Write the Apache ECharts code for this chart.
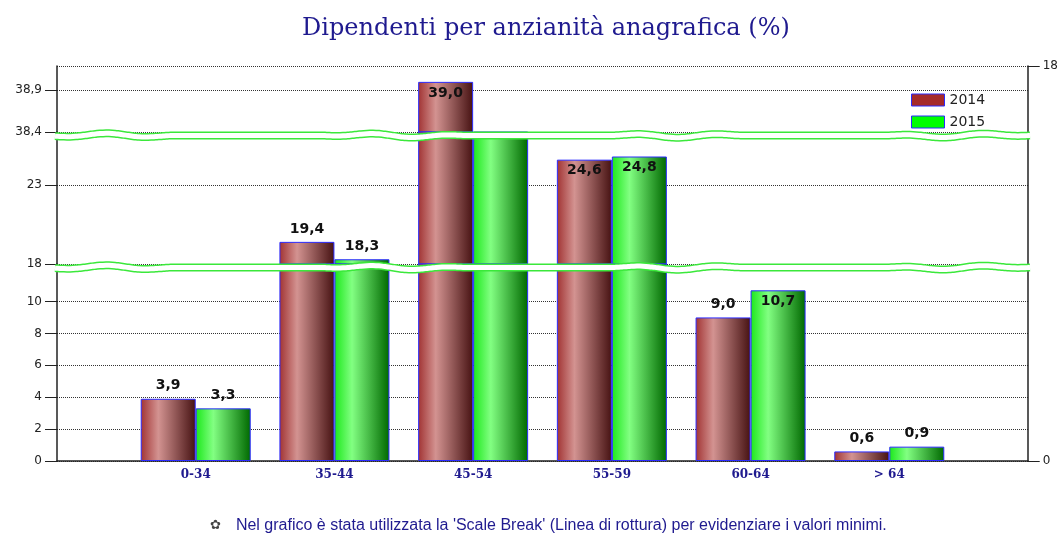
<!DOCTYPE html>
<html>
<head>
<meta charset="utf-8">
<script src="https://cdn.jsdelivr.net/npm/echarts@6/dist/echarts.min.js"></script>
<style>
html, body { margin: 0; padding: 0; background: #fff; }
#chart { width: 1061px; height: 533px; }
</style>
</head>
<body>
<div id="chart"></div>
<script>
// dati
const categories = ['0-34', '35-44', '45-54', '55-59', '60-64', '> 64'];
const values2014 = [3.9, 19.4, 39.0, 24.6, 9.0, 0.6];
const values2015 = [3.3, 18.3, 38.4, 24.8, 10.7, 0.9];
const ticksLow = [0, 2, 4, 6, 8, 10];
const ticksMid = [18, 23];
const ticksTop = [38.4, 38.9];
const ticksRight = [0, 18];

const NAVY = '#1f1a8f';
const BLUE_BORDER = '#2b2bff';

// three stacked grids = scale break
const segments = [
  { top: 66, height: 66, min: 38.4, max: 39.19, ticks: ticksTop },
  { top: 132, height: 132, min: 18, max: 26.35, ticks: ticksMid },
  { top: 264, height: 197, min: 0, max: 12.35, ticks: ticksLow }
];

const fill2014 = new echarts.graphic.LinearGradient(0, 0, 1, 0, [
  { offset: 0, color: '#a13333' },
  { offset: 0.32, color: '#d39391' },
  { offset: 1, color: '#461212' }
]);
const fill2015 = new echarts.graphic.LinearGradient(0, 0, 1, 0, [
  { offset: 0, color: '#1be81b' },
  { offset: 0.32, color: '#82ff82' },
  { offset: 1, color: '#006800' }
]);

const fmt = v => Number(v).toFixed(1).replace('.', ',');
const pad = arr => [null].concat(arr, [null]);

function segData(values, seg) {
  const pxPerUnit = seg.height / (seg.max - seg.min);
  return pad(values).map(v => {
    if (v == null || v < seg.min) return '-';
    const inside = v <= seg.max && (seg.max - v) * pxPerUnit < 30;
    return {
      value: v,
      label: {
        show: v <= seg.max,
        position: inside ? 'insideTop' : 'top',
        distance: inside ? 4 : 6
      }
    };
  });
}

const grids = [];
const xAxes = [];
const yAxes = [];
const series = [];

segments.forEach((seg, i) => {
  grids.push({ left: 57, right: 33, top: seg.top, height: seg.height });
  xAxes.push({
    type: 'category',
    gridIndex: i,
    boundaryGap: false,
    data: [''].concat(categories, ['']),
    show: i === segments.length - 1,
    axisLine: { lineStyle: { color: '#222', width: 1.5 } },
    axisTick: { show: false },
    axisLabel: {
      color: NAVY,
      fontFamily: 'DejaVu Serif',
      fontWeight: 'bold',
      fontSize: 12,
      margin: 8
    },
    splitLine: { show: false }
  });
  yAxes.push({
    type: 'value',
    gridIndex: i,
    min: seg.min,
    max: seg.max,
    axisLine: { show: true, lineStyle: { color: '#222', width: 1.5 } },
    axisTick: { show: true, length: 12, customValues: seg.ticks, lineStyle: { color: '#222' } },
    axisLabel: {
      customValues: seg.ticks,
      formatter: v => String(v).replace('.', ','),
      color: '#222',
      fontFamily: 'DejaVu Sans',
      fontSize: 12,
      margin: 15
    },
    splitLine: { show: true, lineStyle: { color: '#333', type: 'dotted', width: 1 } }
  });
  [['2014', values2014, fill2014], ['2015', values2015, fill2015]].forEach(([name, vals, fill]) => {
    series.push({
      name: name,
      type: 'bar',
      xAxisIndex: i,
      yAxisIndex: i,
      barWidth: 55,
      barGap: '0%',
      clip: true,
      data: segData(vals, seg),
      itemStyle: { color: fill, borderColor: BLUE_BORDER, borderWidth: 1 },
      label: {
        show: true,
        formatter: p => fmt(p.value),
        color: '#111',
        fontFamily: 'DejaVu Sans',
        fontWeight: 'bold',
        fontSize: 14
      }
    });
  });
});

// right axis over the whole plot
grids.push({ left: 57, right: 33, top: 66, bottom: 72 });
xAxes.push({ type: 'category', gridIndex: 3, data: categories, show: false });
yAxes.push({
  type: 'value',
  gridIndex: 3,
  position: 'right',
  min: ticksRight[0],
  max: ticksRight[1],
  interval: ticksRight[1] - ticksRight[0],
  axisLine: { show: true, lineStyle: { color: '#222', width: 1.5 } },
  axisTick: { show: true, length: 12, lineStyle: { color: '#222' } },
  axisLabel: { color: '#222', fontFamily: 'DejaVu Sans', fontSize: 12, margin: 15 },
  splitLine: { show: true, lineStyle: { color: '#333', type: 'dotted', width: 1 } }
});

// wavy break bands
function wave(yc) {
  const pts = [];
  for (let x = 55; x <= 1031; x += 3) {
    pts.push([x, yc + 2.2 * Math.sin((x - 40) / 14) * Math.max(0, Math.sin((x - 40) / 45))]);
  }
  return pts;
}
const breaks = [segments[0].top + segments[0].height + 3.5, segments[1].top + segments[1].height + 3.5];
const graphic = [];
breaks.forEach(yc => {
  const pts = wave(yc);
  graphic.push({ type: 'polyline', z: 100, shape: { points: pts, smooth: 0.3 }, style: { stroke: '#3be83b', lineWidth: 8, fill: null } });
  graphic.push({ type: 'polyline', z: 101, shape: { points: pts, smooth: 0.3 }, style: { stroke: '#ffffff', lineWidth: 5, fill: null } });
});

const chart = echarts.init(document.getElementById('chart'));
chart.setOption({
  animation: false,
  backgroundColor: '#fff',
  title: [
    {
      text: 'Dipendenti per anzianità anagrafica (%)',
      left: 297,
      top: 12,
      textStyle: { color: NAVY, fontFamily: 'DejaVu Serif', fontWeight: 'normal', fontSize: 24 }
    },
    {
      text: '{i|✿}   {t|Nel grafico è stata utilizzata la \'Scale Break\' (Linea di rottura) per evidenziare i valori minimi.}',
      left: 205,
      top: 512,
      textStyle: {
        fontWeight: 'normal',
        rich: {
          i: { color: '#444', fontSize: 13, fontFamily: 'DejaVu Sans', fontWeight: 'normal' },
          t: { color: NAVY, fontSize: 16, fontFamily: 'Liberation Sans', fontWeight: 'normal' }
        }
      }
    }
  ],
  legend: {
    orient: 'vertical',
    left: 906,
    top: 88,
    itemWidth: 33,
    itemHeight: 12,
    itemGap: 8,
    icon: 'rect',
    textStyle: { color: '#222', fontFamily: 'DejaVu Sans', fontSize: 14 },
    data: [
      { name: '2014', itemStyle: { color: '#a52a2a', borderColor: BLUE_BORDER, borderWidth: 1 } },
      { name: '2015', itemStyle: { color: '#00ff00', borderColor: BLUE_BORDER, borderWidth: 1 } }
    ]
  },
  grid: grids,
  xAxis: xAxes,
  yAxis: yAxes,
  series: series,
  graphic: graphic
});
</script>
</body>
</html>
